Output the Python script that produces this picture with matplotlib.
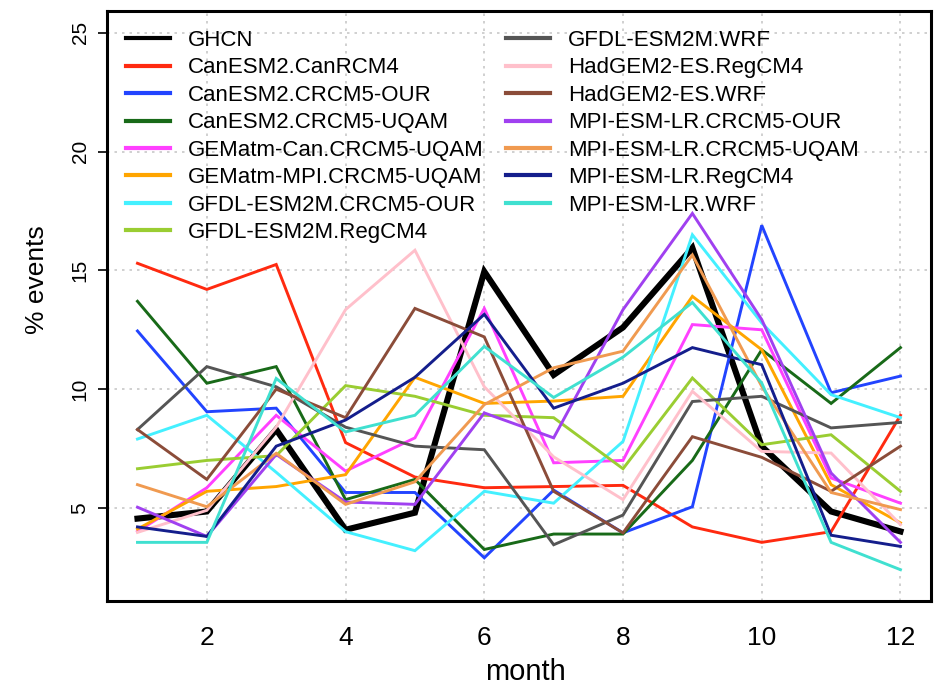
import matplotlib
matplotlib.use("Agg")
import matplotlib.pyplot as plt
from matplotlib.lines import Line2D

plt.rcParams['font.family'] = ['Liberation Sans', 'DejaVu Sans']

months = list(range(1, 13))

series_names = [
    "GHCN", "CanESM2.CanRCM4", "CanESM2.CRCM5-OUR", "CanESM2.CRCM5-UQAM",
    "GEMatm-Can.CRCM5-UQAM", "GEMatm-MPI.CRCM5-UQAM", "GFDL-ESM2M.CRCM5-OUR",
    "GFDL-ESM2M.RegCM4", "GFDL-ESM2M.WRF", "HadGEM2-ES.RegCM4",
    "HadGEM2-ES.WRF", "MPI-ESM-LR.CRCM5-OUR", "MPI-ESM-LR.CRCM5-UQAM",
    "MPI-ESM-LR.RegCM4", "MPI-ESM-LR.WRF",
]

ghcn = [4.55, 4.85, 8.30, 4.08, 4.80, 14.95, 10.60, 12.60, 15.95, 7.59, 4.85, 4.01]
can_canrcm4 = [15.30, 14.20, 15.25, 7.75, 6.30, 5.85, 5.90, 5.95, 4.20, 3.55, 4.00, 8.90]
can_crcm5_our = [12.45, 9.05, 9.20, 5.65, 5.65, 2.90, 5.75, 3.95, 5.05, 16.90, 9.85, 10.55]
can_crcm5_uqam = [13.70, 10.25, 10.95, 5.35, 6.20, 3.25, 3.90, 3.90, 7.00, 11.66, 9.40, 11.75]
gem_can = [4.01, 5.85, 8.90, 6.55, 7.95, 13.40, 6.90, 7.00, 12.72, 12.50, 6.26, 5.20]
gem_mpi = [4.11, 5.70, 5.90, 6.40, 10.50, 9.40, 9.50, 9.70, 13.91, 11.66, 5.98, 4.37]
gfdl_crcm5_our = [7.90, 8.90, 6.50, 4.00, 3.20, 5.70, 5.20, 7.80, 16.50, 12.79, 9.77, 8.80]
gfdl_regcm4 = [6.65, 7.00, 7.20, 10.15, 9.70, 8.90, 8.80, 6.65, 10.47, 7.66, 8.08, 5.70]
gfdl_wrf = [8.30, 10.95, 10.10, 8.40, 7.60, 7.45, 3.45, 4.70, 9.48, 9.70, 8.37, 8.60]
had_regcm4 = [3.97, 4.90, 8.40, 13.35, 15.85, 10.10, 7.15, 5.35, 9.91, 7.38, 7.31, 4.30]
had_wrf = [8.30, 6.20, 10.00, 8.80, 13.40, 12.20, 5.70, 3.95, 8.00, 7.13, 5.70, 7.60]
mpi_crcm5_our = [5.03, 3.80, 7.25, 5.25, 5.15, 9.00, 7.95, 13.35, 17.40, 12.93, 6.47, 3.55]
mpi_crcm5_uqam = [5.98, 5.05, 7.30, 5.15, 6.10, 9.35, 10.90, 11.60, 15.65, 10.12, 5.65, 4.93]
mpi_regcm4 = [4.20, 3.80, 7.60, 8.70, 10.50, 13.15, 9.20, 10.25, 11.75, 11.03, 3.85, 3.38]
mpi_wrf = [3.55, 3.55, 10.45, 8.20, 8.90, 11.80, 9.65, 11.35, 13.65, 10.26, 3.55, 2.40]

values = [ghcn, can_canrcm4, can_crcm5_our, can_crcm5_uqam, gem_can, gem_mpi,
          gfdl_crcm5_our, gfdl_regcm4, gfdl_wrf, had_regcm4, had_wrf,
          mpi_crcm5_our, mpi_crcm5_uqam, mpi_regcm4, mpi_wrf]

colors = ['#000000', '#FF2A10', '#2244FF', '#186A18', '#FF40FF', '#FFA500',
          '#44F0FF', '#9ACD32', '#555555', '#FFC0CB', '#8B4C39', '#A040F0',
          '#F09A50', '#141E8C', '#40E0D0']

y_ticks = [5, 10, 15, 20, 25]
x_ticks = [2, 4, 6, 8, 10, 12]

fig = plt.figure(figsize=(9.35, 6.91), dpi=100)
ax = fig.add_axes([0.1144, 0.1302, 0.8813, 0.8538])

for name, vals, col in zip(series_names, values, colors):
    lw = 4.4 if name == "GHCN" else 2.1
    ax.plot(months, vals, color=col, lw=lw, solid_joinstyle='miter')

ax.set_xlim(0.56, 12.44)
ax.set_ylim(1.08, 25.92)
ax.set_xticks(x_ticks)
ax.set_yticks(y_ticks)
ax.grid(True, color='#c8c8c8', linestyle=(0, (1.5, 3)), lw=1.2)
ax.set_axisbelow(True)

for sp in ax.spines.values():
    sp.set_linewidth(2.2)

ax.tick_params(axis='x', length=0, pad=18, labelsize=19)
ax.tick_params(axis='y', length=6.5, width=1.2, pad=6, labelsize=15)
for lab in ax.get_yticklabels():
    lab.set_rotation(90)
    lab.set_va('center')

fig.text(37 / 935, 1 - 280 / 691, "% events", rotation=90, ha='center',
         va='center', fontsize=19)
fig.text(525 / 935, 1 - 672 / 691, "month", ha='center', va='center',
         fontsize=21)

handles = [Line2D([0], [0], color=c, lw=3) for c in colors]
ax.legend(handles, series_names, loc='upper left', bbox_to_anchor=(0.0, 1.0),
          ncol=2, frameon=False, fontsize=16, handlelength=2.0,
          handletextpad=0.8, labelspacing=0.29, columnspacing=1.0,
          borderaxespad=0.45)

fig.savefig("out.png", dpi=100)
